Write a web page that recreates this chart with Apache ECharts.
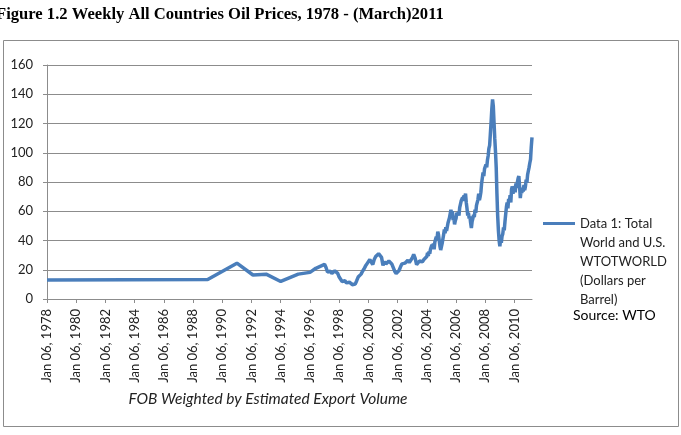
<!doctype html>
<html lang="en">
  <head>
    <meta charset="UTF-8" />
    <title>Weekly All Countries Oil Prices</title>
    <script src="https://cdn.jsdelivr.net/npm/echarts@6/dist/echarts.min.js"></script>
    <style>
      body {
        margin: 0;
        padding: 0;
        background: #fff;
      }
      .main {
        width: 681px;
        height: 435px;
      }
    </style>
  </head>
  <body>
    <div class="main"></div>
  </body>
  <script>
    // years as decimals, prices in dollars per barrel
    const years = [
      1978.0, 1989.0, 1991.0, 1992.1, 1993.0, 1994.0, 1995.2, 1996.0, 1996.4, 1997.0,
      1997.1, 1997.2, 1997.3, 1997.4, 1997.5, 1997.6, 1997.7, 1997.8, 1997.9,
      1998.0, 1998.1, 1998.2, 1998.3, 1998.4, 1998.5, 1998.6, 1998.7, 1998.8, 1998.9,
      1999.0, 1999.1, 1999.2, 1999.3, 1999.4, 1999.5, 1999.6, 1999.7, 1999.8, 1999.9,
      2000.0, 2000.1, 2000.2, 2000.3, 2000.4, 2000.5, 2000.6, 2000.7, 2000.75, 2000.8, 2000.9,
      2001.0, 2001.1, 2001.2, 2001.3, 2001.4, 2001.5, 2001.6, 2001.7, 2001.8, 2001.9,
      2002.0, 2002.1, 2002.2, 2002.3, 2002.4, 2002.5, 2002.6, 2002.7, 2002.8, 2002.9,
      2003.0, 2003.1, 2003.2, 2003.3, 2003.4, 2003.5, 2003.6, 2003.7, 2003.8, 2003.9,
      2004.0, 2004.05, 2004.1, 2004.15, 2004.2, 2004.25, 2004.3, 2004.35, 2004.4, 2004.45,
      2004.5, 2004.55, 2004.6, 2004.65, 2004.7, 2004.75, 2004.8, 2004.85, 2004.9, 2004.95,
      2005.0, 2005.05, 2005.1, 2005.15, 2005.2, 2005.25, 2005.3, 2005.35, 2005.4, 2005.45,
      2005.5, 2005.55, 2005.6, 2005.65, 2005.7, 2005.75, 2005.8, 2005.85, 2005.9, 2005.95,
      2006.0, 2006.05, 2006.1, 2006.15, 2006.2, 2006.25, 2006.3, 2006.35, 2006.4, 2006.45,
      2006.5, 2006.55, 2006.6, 2006.65, 2006.7, 2006.75, 2006.8, 2006.85, 2006.9, 2006.95,
      2007.0, 2007.05, 2007.1, 2007.15, 2007.2, 2007.25, 2007.3, 2007.35, 2007.4, 2007.45,
      2007.5, 2007.55, 2007.6, 2007.65, 2007.7, 2007.75, 2007.8, 2007.85, 2007.9, 2007.95,
      2008.0, 2008.05, 2008.1, 2008.15, 2008.2, 2008.25, 2008.3, 2008.35, 2008.4, 2008.45,
      2008.5, 2008.55, 2008.6, 2008.65, 2008.7, 2008.75, 2008.8, 2008.85, 2008.9, 2008.95,
      2009.0, 2009.05, 2009.1, 2009.15, 2009.2, 2009.25, 2009.3, 2009.35, 2009.4, 2009.45,
      2009.5, 2009.55, 2009.6, 2009.65, 2009.7, 2009.75, 2009.8, 2009.85, 2009.9, 2009.95,
      2010.0, 2010.05, 2010.1, 2010.15, 2010.2, 2010.25, 2010.3, 2010.35, 2010.4, 2010.45,
      2010.5, 2010.55, 2010.6, 2010.65, 2010.7, 2010.75, 2010.8, 2010.85, 2010.9, 2010.95,
      2011.0, 2011.05, 2011.1, 2011.15, 2011.2,
    ];
    const prices = [
      13.0, 13.3, 24.5, 16.4, 17.0, 12.0, 17.0, 18.2, 21.0, 23.7,
      21.5, 18.5, 17.5, 19.0, 17.5, 18.5, 19.2, 18.0, 17.5,
      15.0, 13.5, 12.0, 11.0, 12.5, 11.0, 12.0, 11.5, 10.5, 9.8,
      9.5, 10.2, 12.5, 15.0, 15.5, 17.0, 19.0, 20.5, 22.5, 24.0,
      24.5, 27.0, 26.0, 23.5, 27.0, 29.0, 28.0, 31.0, 32.0, 30.0, 28.5,
      23.0, 25.5, 24.0, 25.0, 26.0, 25.0, 24.0, 23.5, 19.0, 17.5,
      17.8, 19.5, 22.0, 24.0, 23.5, 24.5, 25.5, 26.5, 25.0, 25.5,
      28.0, 30.5, 28.0, 23.5, 24.5, 26.0, 26.5, 25.5, 27.0, 27.5,
      29.0, 31.5, 29.5, 32.5, 31.0, 34.0, 33.5, 37.0, 35.0, 38.0,
      34.0, 39.0, 38.0, 42.5, 41.0, 46.0, 44.0, 40.0, 36.0, 33.5,
      34.0, 38.0, 41.0, 44.0, 47.5, 45.0, 49.0, 46.5, 47.0, 52.0,
      51.0, 55.5, 56.0, 61.0, 58.0, 60.0, 54.0, 55.5, 51.0, 53.5,
      55.0, 59.0, 57.0, 59.5, 57.0, 62.5, 63.0, 67.0, 66.0, 69.5,
      67.0, 71.0, 69.5, 72.0, 66.0, 62.0, 57.0, 59.0, 55.0, 56.5,
      52.0, 48.5, 53.0, 55.0, 57.5, 56.0, 61.0, 59.0, 64.0, 63.0,
      68.0, 72.0, 67.5, 70.0, 73.0, 79.0, 80.0, 86.5, 84.0, 89.0,
      88.0, 92.0, 90.0, 95.0, 98.0, 103.0, 105.0, 113.0, 121.0, 130.0,
      136.5, 132.0, 121.0, 110.0, 101.0, 90.0, 72.0, 57.0, 47.0, 40.0,
      36.0, 41.0, 38.5, 43.0, 44.5, 49.0, 47.0, 53.0, 58.0, 63.0,
      66.0, 62.0, 68.5, 66.0, 71.0, 66.0, 75.0, 77.0, 72.0, 75.5,
      77.0, 73.0, 79.0, 76.0, 80.0, 82.5, 84.0, 77.0, 69.0, 74.0,
      72.5, 76.0, 73.5, 78.0, 74.5, 77.0, 81.5, 79.5, 85.0, 87.5,
      90.0, 93.0, 95.5, 104.0, 110.5,
    ];
    const tickYears = [1978, 1980, 1982, 1984, 1986, 1988, 1990, 1992, 1994, 1996, 1998, 2000, 2002, 2004, 2006, 2008, 2010];
    const seriesName = "\n\n\n\nData 1: Total\nWorld and U.S.\nWTOTWORLD\n(Dollars per\nBarrel)";

    const font = "Lato, 'Open Sans', sans-serif";
    const gray = "#8c8c8c";

    const myChart = echarts.init(document.querySelector(".main"));

    const option = {
      backgroundColor: "#fff",
      animation: false,
      title: [
        {
          text: "Figure 1.2 Weekly All Countries Oil Prices, 1978 - (March)2011",
          left: -4,
          top: 6,
          padding: 0,
          textStyle: {
            fontFamily: "'Liberation Serif', serif",
            fontWeight: "bold",
            fontSize: 16.6,
            color: "#000",
          },
        },
        {
          text: "Source: WTO",
          left: 573,
          top: 308,
          padding: 0,
          textStyle: { fontFamily: font, fontWeight: "normal", fontSize: 14, color: "#000" },
        },
      ],
      graphic: [
        {
          type: "rect",
          shape: { x: 3.5, y: 40.5, width: 675, height: 386 },
          style: { fill: "none", stroke: gray, lineWidth: 1 },
          silent: true,
        },
      ],
      legend: {
        left: 543,
        top: 138,
        padding: 0,
        icon: "rect",
        itemWidth: 32,
        itemHeight: 3,
        textStyle: { fontFamily: font, fontSize: 13, lineHeight: 19, color: "#222" },
        data: [seriesName],
      },
      grid: {
        left: 47,
        right: 149,
        top: 65,
        bottom: 136,
      },
      xAxis: {
        type: "value",
        min: 1978,
        max: 2011.2,
        interval: 2,
        name: "FOB Weighted by Estimated Export Volume",
        nameLocation: "middle",
        nameGap: 82,
        nameTextStyle: {
          fontFamily: font,
          fontStyle: "italic",
          fontSize: 15.5,
          color: "#222",
          padding: [0, 43, 0, 0],
        },
        splitLine: { show: false },
        axisLine: { show: true, lineStyle: { color: gray, width: 1 } },
        axisTick: { show: true, length: 4, lineStyle: { color: gray }, customValues: tickYears },
        axisLabel: {
          rotate: 90,
          margin: 10,
          fontFamily: font,
          fontSize: 13,
          color: "#222",
          customValues: tickYears,
          formatter: (v) => "Jan 06, " + v,
        },
      },
      yAxis: {
        type: "value",
        min: 0,
        max: 160,
        interval: 20,
        axisLine: { show: true, lineStyle: { color: gray, width: 1 } },
        axisTick: { show: true, length: 4, lineStyle: { color: gray } },
        splitLine: { show: true, lineStyle: { color: gray, width: 1 } },
        axisLabel: { margin: 14, fontFamily: font, fontSize: 13, color: "#222" },
      },
      series: [
        {
          name: seriesName,
          type: "line",
          symbol: "none",
          lineStyle: { color: "#4a7ebb", width: 3.5 },
          itemStyle: { color: "#4a7ebb" },
          data: years.map((y, i) => [y, prices[i]]),
        },
      ],
    };

    myChart.setOption(option);
  </script>
</html>
